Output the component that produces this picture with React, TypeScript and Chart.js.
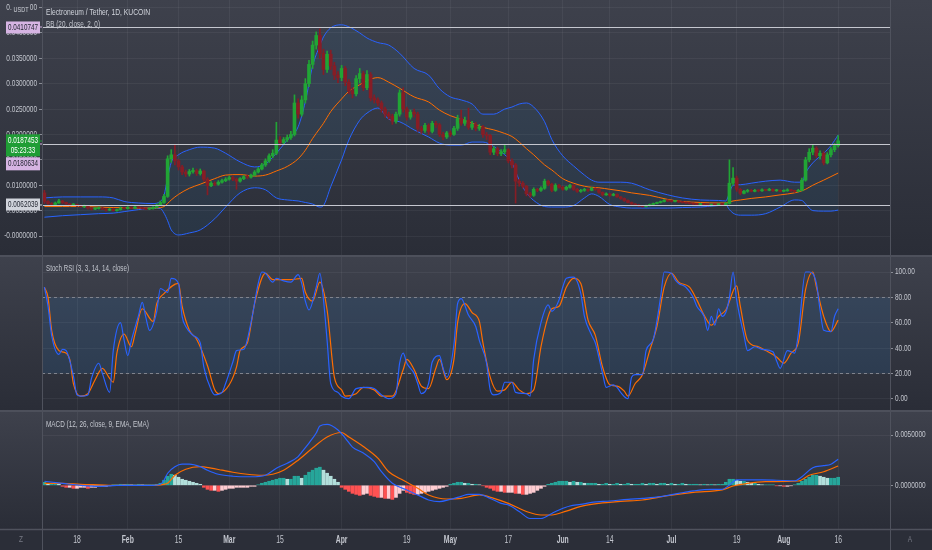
import React, { useEffect, useRef } from "react";
import { Chart, registerables } from "chart.js";

Chart.register(...registerables);

// day 0 = 9 Jan, one candle per day up to 16 Aug (day 219)
const tickDays = [9, 23, 37, 51, 65, 82, 100, 112, 128, 143, 156, 173, 191, 204, 219];
const tickLabels = ["18", "Feb", "15", "Mar", "15", "Apr", "19", "May", "17", "Jun", "14", "Jul", "19", "Aug", "16"];
const monthLabels = ["Feb", "Mar", "Apr", "May", "Jun", "Jul", "Aug"];

const opens = [
  0.0085, 0.0068, 0.0064, 0.0062, 0.0065, 0.0069, 0.0066, 0.0063, 0.0061, 0.0062,
  0.0060, 0.0058, 0.0059, 0.0055, 0.0053, 0.0054, 0.0055, 0.0053, 0.0051, 0.0053,
  0.0050, 0.0052, 0.0055, 0.0054, 0.0056, 0.0055, 0.0057, 0.0056, 0.0054, 0.0053,
  0.0054, 0.0056, 0.0061, 0.0066, 0.0078, 0.0152, 0.0160, 0.0148, 0.0136, 0.0126,
  0.0122, 0.0127, 0.0129, 0.0123, 0.0128, 0.0112, 0.0099, 0.0104, 0.0102, 0.0106,
  0.0109, 0.0112, 0.0115, 0.0112, 0.0108, 0.0113, 0.0117, 0.0116, 0.0120, 0.0126,
  0.0132, 0.0140, 0.0148, 0.0158, 0.0163, 0.0189, 0.0184, 0.0190, 0.0194, 0.0200,
  0.0262, 0.0240, 0.0268, 0.0300, 0.0338, 0.0376, 0.0395, 0.0360, 0.0328, 0.0358,
  0.0335, 0.0317, 0.0312, 0.0330, 0.0303, 0.0286, 0.0280, 0.0310, 0.0320, 0.0292,
  0.0318, 0.0272, 0.0268, 0.0262, 0.0250, 0.0240, 0.0236, 0.0226, 0.0240, 0.0282,
  0.0250, 0.0234, 0.0244, 0.0240, 0.0212, 0.0208, 0.0218, 0.0206, 0.0222, 0.0219,
  0.0200, 0.0195, 0.0203, 0.0200, 0.0212, 0.0232, 0.0222, 0.0228, 0.0214, 0.0220,
  0.0212, 0.0215, 0.0200, 0.0198, 0.0165, 0.0172, 0.0162, 0.0166, 0.0170, 0.0148,
  0.0140, 0.0108, 0.0104, 0.0098, 0.0083, 0.0080, 0.0092, 0.0090, 0.0094, 0.0108,
  0.0102, 0.0090, 0.0100, 0.0096, 0.0092, 0.0096, 0.0100, 0.0092, 0.0088, 0.0090,
  0.0092, 0.0090, 0.0094, 0.0092, 0.0086, 0.0081, 0.0083, 0.0080, 0.0082, 0.0077,
  0.0074, 0.0070, 0.0066, 0.0063, 0.0061, 0.0059, 0.0058, 0.0060, 0.0062, 0.0064,
  0.0066, 0.0068, 0.0070, 0.0069, 0.0068, 0.0069, 0.0067, 0.0066, 0.0065, 0.0064,
  0.0063, 0.0062, 0.0063, 0.0062, 0.0060, 0.0062, 0.0061, 0.0063, 0.0062, 0.0064,
  0.0104, 0.0114, 0.0092, 0.0084, 0.0088, 0.0090, 0.0088, 0.0090, 0.0089, 0.0091,
  0.0090, 0.0092, 0.0089, 0.0090, 0.0088, 0.0089, 0.0091, 0.0089, 0.0088, 0.0090,
  0.0110, 0.0150, 0.0165, 0.0173, 0.0158, 0.0163, 0.0144, 0.0160, 0.0170, 0.0178,
];

const highs = [
  0.0090, 0.0070, 0.0066, 0.0067, 0.0072, 0.0070, 0.0067, 0.0064, 0.0064, 0.0063,
  0.0061, 0.0061, 0.0060, 0.0056, 0.0056, 0.0057, 0.0056, 0.0054, 0.0055, 0.0054,
  0.0053, 0.0057, 0.0056, 0.0058, 0.0057, 0.0059, 0.0058, 0.0057, 0.0055, 0.0055,
  0.0058, 0.0063, 0.0069, 0.0082, 0.0158, 0.0170, 0.0180, 0.0151, 0.0139, 0.0130,
  0.0131, 0.0134, 0.0132, 0.0132, 0.0130, 0.0115, 0.0107, 0.0107, 0.0109, 0.0112,
  0.0115, 0.0118, 0.0118, 0.0114, 0.0115, 0.0119, 0.0120, 0.0122, 0.0129, 0.0135,
  0.0143, 0.0152, 0.0162, 0.0170, 0.0224, 0.0196, 0.0194, 0.0199, 0.0206, 0.0278,
  0.0270, 0.0276, 0.0310, 0.0346, 0.0384, 0.0402, 0.0408, 0.0368, 0.0364, 0.0366,
  0.0342, 0.0324, 0.0336, 0.0334, 0.0308, 0.0292, 0.0316, 0.0330, 0.0324, 0.0326,
  0.0322, 0.0278, 0.0272, 0.0266, 0.0254, 0.0244, 0.0240, 0.0244, 0.0288, 0.0292,
  0.0254, 0.0248, 0.0250, 0.0244, 0.0216, 0.0222, 0.0221, 0.0226, 0.0226, 0.0222,
  0.0204, 0.0206, 0.0207, 0.0216, 0.0238, 0.0248, 0.0234, 0.0252, 0.0226, 0.0224,
  0.0220, 0.0218, 0.0204, 0.0200, 0.0176, 0.0175, 0.0170, 0.0180, 0.0172, 0.0152,
  0.0143, 0.0112, 0.0107, 0.0100, 0.0086, 0.0095, 0.0094, 0.0097, 0.0112, 0.0110,
  0.0104, 0.0103, 0.0102, 0.0098, 0.0098, 0.0102, 0.0101, 0.0094, 0.0092, 0.0094,
  0.0093, 0.0096, 0.0095, 0.0093, 0.0087, 0.0085, 0.0084, 0.0084, 0.0083, 0.0078,
  0.0075, 0.0071, 0.0067, 0.0064, 0.0062, 0.0060, 0.0061, 0.0063, 0.0065, 0.0067,
  0.0069, 0.0072, 0.0071, 0.0070, 0.0070, 0.0070, 0.0068, 0.0067, 0.0066, 0.0065,
  0.0064, 0.0064, 0.0064, 0.0063, 0.0063, 0.0063, 0.0064, 0.0064, 0.0066, 0.0150,
  0.0135, 0.0118, 0.0094, 0.0090, 0.0092, 0.0092, 0.0092, 0.0091, 0.0093, 0.0092,
  0.0094, 0.0093, 0.0092, 0.0091, 0.0091, 0.0093, 0.0092, 0.0090, 0.0092, 0.0114,
  0.0155, 0.0172, 0.0179, 0.0176, 0.0168, 0.0166, 0.0164, 0.0174, 0.0182, 0.0198,
];

const lows = [
  0.0064, 0.0062, 0.0060, 0.0061, 0.0064, 0.0064, 0.0062, 0.0059, 0.0060, 0.0058,
  0.0057, 0.0056, 0.0053, 0.0051, 0.0052, 0.0053, 0.0052, 0.0049, 0.0050, 0.0049,
  0.0049, 0.0051, 0.0053, 0.0053, 0.0054, 0.0054, 0.0055, 0.0053, 0.0052, 0.0052,
  0.0053, 0.0055, 0.0060, 0.0064, 0.0076, 0.0145, 0.0140, 0.0130, 0.0121, 0.0117,
  0.0118, 0.0124, 0.0119, 0.0120, 0.0108, 0.0081, 0.0097, 0.0099, 0.0100, 0.0104,
  0.0107, 0.0110, 0.0109, 0.0092, 0.0106, 0.0111, 0.0113, 0.0114, 0.0118, 0.0124,
  0.0130, 0.0137, 0.0145, 0.0154, 0.0160, 0.0178, 0.0180, 0.0186, 0.0190, 0.0197,
  0.0232, 0.0236, 0.0262, 0.0294, 0.0330, 0.0368, 0.0350, 0.0318, 0.0322, 0.0328,
  0.0308, 0.0302, 0.0306, 0.0296, 0.0280, 0.0272, 0.0276, 0.0302, 0.0286, 0.0288,
  0.0266, 0.0262, 0.0256, 0.0244, 0.0234, 0.0230, 0.0220, 0.0222, 0.0236, 0.0244,
  0.0228, 0.0230, 0.0234, 0.0206, 0.0202, 0.0204, 0.0200, 0.0203, 0.0214, 0.0196,
  0.0189, 0.0192, 0.0196, 0.0198, 0.0208, 0.0218, 0.0218, 0.0210, 0.0210, 0.0207,
  0.0208, 0.0194, 0.0190, 0.0160, 0.0160, 0.0158, 0.0158, 0.0162, 0.0144, 0.0134,
  0.0065, 0.0098, 0.0094, 0.0079, 0.0076, 0.0078, 0.0087, 0.0088, 0.0092, 0.0099,
  0.0087, 0.0088, 0.0094, 0.0090, 0.0090, 0.0094, 0.0090, 0.0086, 0.0086, 0.0088,
  0.0088, 0.0089, 0.0090, 0.0084, 0.0079, 0.0080, 0.0078, 0.0079, 0.0076, 0.0072,
  0.0068, 0.0065, 0.0062, 0.0060, 0.0058, 0.0057, 0.0057, 0.0059, 0.0061, 0.0063,
  0.0065, 0.0067, 0.0068, 0.0067, 0.0067, 0.0066, 0.0065, 0.0064, 0.0063, 0.0062,
  0.0061, 0.0061, 0.0061, 0.0059, 0.0059, 0.0060, 0.0060, 0.0061, 0.0061, 0.0063,
  0.0100, 0.0088, 0.0081, 0.0083, 0.0086, 0.0087, 0.0087, 0.0087, 0.0088, 0.0089,
  0.0089, 0.0088, 0.0088, 0.0087, 0.0087, 0.0088, 0.0088, 0.0086, 0.0087, 0.0089,
  0.0108, 0.0146, 0.0160, 0.0154, 0.0152, 0.0140, 0.0142, 0.0156, 0.0166, 0.0175,
];

const closes = [
  0.0068, 0.0064, 0.0062, 0.0065, 0.0069, 0.0066, 0.0063, 0.0061, 0.0062, 0.0060,
  0.0058, 0.0059, 0.0055, 0.0053, 0.0054, 0.0055, 0.0053, 0.0051, 0.0053, 0.0050,
  0.0052, 0.0055, 0.0054, 0.0056, 0.0055, 0.0057, 0.0056, 0.0054, 0.0053, 0.0054,
  0.0056, 0.0061, 0.0066, 0.0078, 0.0152, 0.0160, 0.0148, 0.0136, 0.0126, 0.0122,
  0.0127, 0.0129, 0.0123, 0.0128, 0.0112, 0.0099, 0.0104, 0.0102, 0.0106, 0.0109,
  0.0112, 0.0115, 0.0112, 0.0108, 0.0113, 0.0117, 0.0116, 0.0120, 0.0126, 0.0132,
  0.0140, 0.0148, 0.0158, 0.0163, 0.0189, 0.0184, 0.0190, 0.0194, 0.0200, 0.0262,
  0.0240, 0.0268, 0.0300, 0.0338, 0.0376, 0.0395, 0.0360, 0.0328, 0.0358, 0.0335,
  0.0317, 0.0312, 0.0330, 0.0303, 0.0286, 0.0280, 0.0310, 0.0320, 0.0292, 0.0318,
  0.0272, 0.0268, 0.0262, 0.0250, 0.0240, 0.0236, 0.0226, 0.0240, 0.0282, 0.0250,
  0.0234, 0.0244, 0.0240, 0.0212, 0.0208, 0.0218, 0.0206, 0.0222, 0.0219, 0.0200,
  0.0195, 0.0203, 0.0200, 0.0212, 0.0232, 0.0222, 0.0228, 0.0214, 0.0220, 0.0212,
  0.0215, 0.0200, 0.0198, 0.0165, 0.0172, 0.0162, 0.0166, 0.0170, 0.0148, 0.0140,
  0.0108, 0.0104, 0.0098, 0.0083, 0.0080, 0.0092, 0.0090, 0.0094, 0.0108, 0.0102,
  0.0090, 0.0100, 0.0096, 0.0092, 0.0096, 0.0100, 0.0092, 0.0088, 0.0090, 0.0092,
  0.0090, 0.0094, 0.0092, 0.0086, 0.0081, 0.0083, 0.0080, 0.0082, 0.0077, 0.0074,
  0.0070, 0.0066, 0.0063, 0.0061, 0.0059, 0.0058, 0.0060, 0.0062, 0.0064, 0.0066,
  0.0068, 0.0070, 0.0069, 0.0068, 0.0069, 0.0067, 0.0066, 0.0065, 0.0064, 0.0063,
  0.0062, 0.0063, 0.0062, 0.0060, 0.0062, 0.0061, 0.0063, 0.0062, 0.0064, 0.0104,
  0.0114, 0.0092, 0.0084, 0.0088, 0.0090, 0.0088, 0.0090, 0.0089, 0.0091, 0.0090,
  0.0092, 0.0089, 0.0090, 0.0088, 0.0089, 0.0091, 0.0089, 0.0088, 0.0090, 0.0110,
  0.0150, 0.0165, 0.0173, 0.0158, 0.0163, 0.0144, 0.0160, 0.0170, 0.0178, 0.0187453,
];

// Bollinger Bands (20, 2) read at these days
const bbDays = [
  0, 5, 10, 15, 19, 22, 26, 30, 32, 33,
  34, 35, 37, 40, 43, 47, 50, 54, 58, 61,
  64, 67, 70, 72, 74, 76, 77, 79, 82, 84,
  87, 89, 92, 95, 98, 102, 106, 109, 112, 115,
  118, 121, 124, 127, 129, 131, 133, 135, 138, 140,
  143, 146, 149, 151, 153, 156, 159, 162, 167, 172,
  176, 181, 186, 188, 189, 190, 192, 195, 199, 203,
  207, 209, 210, 212, 215, 217, 219,
];
const bbUpper = [
  0.0075, 0.0077, 0.0077, 0.0077, 0.0075, 0.0068, 0.0065, 0.0064, 0.0068, 0.0080,
  0.0115, 0.0145, 0.0160, 0.0170, 0.0175, 0.0173, 0.0163, 0.0146, 0.0136, 0.0142,
  0.0163, 0.0189, 0.0215, 0.0265, 0.0335, 0.0375, 0.0392, 0.0410, 0.0416, 0.0412,
  0.0400, 0.0390, 0.0381, 0.0376, 0.0360, 0.0330, 0.0317, 0.0290, 0.0274, 0.0268,
  0.0260, 0.0240, 0.0240, 0.0250, 0.0254, 0.0260, 0.0262, 0.0254, 0.0225, 0.0190,
  0.0158, 0.0138, 0.0120, 0.0110, 0.0106, 0.0106, 0.0106, 0.0104, 0.0091, 0.0081,
  0.0075, 0.0071, 0.0070, 0.0069, 0.0085, 0.0100, 0.0101, 0.0104, 0.0108, 0.0110,
  0.0106, 0.0106, 0.0124, 0.0144, 0.0163, 0.0178, 0.0199,
];
const bbBasis = [
  0.0058, 0.0058, 0.0058, 0.0057, 0.0056, 0.0056, 0.0055, 0.0055, 0.0056, 0.0058,
  0.0064, 0.0071, 0.0082, 0.0094, 0.0102, 0.0113, 0.0120, 0.0121, 0.0118, 0.0120,
  0.0128, 0.0137, 0.0152, 0.0169, 0.0192, 0.0212, 0.0222, 0.0245, 0.0270, 0.0285,
  0.0298, 0.0306, 0.0312, 0.0303, 0.0291, 0.0274, 0.0264, 0.0248, 0.0237, 0.0230,
  0.0222, 0.0214, 0.0209, 0.0202, 0.0196, 0.0185, 0.0172, 0.0160, 0.0140, 0.0130,
  0.0113, 0.0104, 0.0098, 0.0096, 0.0095, 0.0092, 0.0089, 0.0085, 0.0080, 0.0072,
  0.0068, 0.0066, 0.0065, 0.0065, 0.0067, 0.0069, 0.0071, 0.0074, 0.0077, 0.0081,
  0.0085, 0.0089, 0.0092, 0.0100, 0.0110, 0.0117, 0.0124,
];
const bbLower = [
  0.0037, 0.0040, 0.0042, 0.0044, 0.0045, 0.0048, 0.0052, 0.0055, 0.0054, 0.0045,
  0.0030, 0.0012, 0.0002, 0.0006, 0.0012, 0.0034, 0.0057, 0.0085, 0.0095, 0.0091,
  0.0075, 0.0071, 0.0069, 0.0066, 0.0063, 0.0057, 0.0060, 0.0097, 0.0150, 0.0189,
  0.0228, 0.0242, 0.0252, 0.0230, 0.0225, 0.0209, 0.0195, 0.0183, 0.0179, 0.0179,
  0.0185, 0.0185, 0.0176, 0.0160, 0.0144, 0.0110, 0.0085, 0.0070, 0.0058, 0.0057,
  0.0057, 0.0060, 0.0075, 0.0083, 0.0078, 0.0062, 0.0057, 0.0055, 0.0055, 0.0055,
  0.0056, 0.0057, 0.0060, 0.0061, 0.0052, 0.0045, 0.0041, 0.0041, 0.0044, 0.0057,
  0.0071, 0.0070, 0.0063, 0.0050, 0.0049, 0.0049, 0.0051,
];

const priceLines = [0.0410747, 0.0180634, 0.0062039];
const priceTicks = [0, 0.005, 0.01, 0.015, 0.02, 0.025, 0.03, 0.035, 0.04, 0.045];
const priceTickLabels = ["-0.0000000", "0.0050000", "0.0100000", "0.0150000", "0.0200000", "0.0250000", "0.0300000", "0.0350000", "0.0400000", "0.0450000"];

// Stoch RSI [day, value]
const stochK = [
  [0, 88], [1, 73], [2, 50], [4, 35], [5, 39], [6, 38], [8, 18], [9, 3], [10, 2], [12, 3], [13, 16], [15, 28],
  [16, 20], [18, 5], [19, 38], [21, 60], [22, 46], [23, 34], [24, 46], [26, 66], [27, 76], [28, 64], [29, 54],
  [31, 69], [32, 87], [34, 84], [35, 95], [37, 91], [38, 65], [39, 57], [41, 50], [43, 44], [44, 25], [46, 7],
  [47, 3], [49, 5], [50, 12], [52, 29], [53, 38], [55, 39], [57, 60], [59, 91], [60, 100], [61, 99], [63, 92],
  [64, 95], [66, 93], [68, 92], [70, 98], [71, 91], [72, 77], [73, 70], [75, 88], [76, 99], [77, 78], [78, 46],
  [79, 12], [81, 5], [82, 2], [84, 0], [86, 8], [89, 9], [91, 8], [93, 3], [95, 0], [97, 4], [98, 28], [99, 36],
  [100, 28], [102, 20], [103, 12], [104, 4], [106, 12], [107, 29], [109, 34], [110, 24], [111, 17], [113, 43],
  [114, 75], [115, 79], [117, 66], [119, 57], [120, 46], [122, 28], [123, 7], [124, 3], [126, 5], [127, 13],
  [129, 13], [130, 5], [133, 4], [134, 2], [135, 31], [137, 60], [139, 74], [140, 69], [142, 78], [143, 88],
  [144, 95], [146, 96], [148, 83], [149, 65], [151, 50], [152, 44], [154, 20], [155, 9], [157, 11], [158, 9],
  [159, 5], [161, 0], [162, 17], [163, 19], [165, 19], [166, 38], [168, 47], [170, 80], [171, 100], [173, 99],
  [174, 94], [175, 91], [177, 88], [179, 80], [180, 73], [182, 65], [183, 54], [184, 65], [185, 58], [186, 71],
  [187, 65], [188, 68], [189, 80], [190, 100], [191, 78], [193, 50], [194, 38], [196, 41], [198, 39], [201, 37],
  [202, 30], [203, 24], [205, 38], [207, 36], [208, 51], [210, 100], [211, 100], [213, 91], [214, 70], [215, 54],
  [217, 53], [218, 65], [219, 71],
];
const stochD = [
  [0, 88], [1, 80], [2, 54], [4, 38], [5, 37], [7, 31], [8, 12], [10, 2], [12, 4], [14, 15], [16, 24], [18, 16],
  [19, 13], [20, 36], [22, 51], [24, 41], [25, 51], [27, 71], [30, 61], [31, 75], [33, 83], [37, 91], [38, 73],
  [40, 54], [42, 47], [45, 26], [47, 7], [48, 4], [51, 11], [53, 25], [54, 38], [56, 44], [58, 75], [61, 99],
  [63, 94], [66, 94], [68, 94], [71, 95], [72, 84], [74, 77], [76, 92], [78, 70], [80, 17], [82, 7], [83, 2],
  [86, 4], [88, 9], [91, 7], [93, 2], [96, 2], [99, 23], [100, 31], [102, 23], [104, 10], [106, 8], [108, 24],
  [109, 31], [111, 15], [113, 31], [114, 60], [116, 75], [118, 68], [120, 61], [121, 44], [123, 17], [125, 6],
  [127, 7], [129, 13], [131, 7], [133, 4], [135, 7], [137, 41], [139, 65], [140, 71], [142, 73], [144, 88],
  [146, 95], [148, 91], [150, 62], [152, 50], [154, 25], [156, 11], [158, 10], [160, 6], [161, 2], [163, 12],
  [165, 19], [167, 38], [169, 57], [171, 88], [173, 99], [175, 92], [178, 88], [180, 78], [182, 66], [184, 58],
  [186, 65], [188, 70], [191, 89], [192, 73], [194, 46], [197, 41], [199, 38], [202, 33], [204, 28], [206, 36],
  [208, 44], [210, 86], [212, 100], [213, 88], [215, 65], [217, 53], [219, 62],
];
const stochBands = [80, 20];
const stochTicks = [0, 20, 40, 60, 80, 100];
const stochTickLabels = ["0.00", "20.00", "40.00", "60.00", "80.00", "100.00"];

// MACD (12, 26, 9) [day, value]
const macdLine = [
  [0, 0.0004], [5, 0.0002], [10, 0], [15, -0.0001], [20, 0], [25, 0], [30, 0], [32, 0.0001], [33, 0.0005],
  [34, 0.0012], [36, 0.00185], [38, 0.0021], [40, 0.0021], [43, 0.00185], [45, 0.0015], [48, 0.0011],
  [52, 0.0009], [57, 0.00085], [61, 0.001], [64, 0.0017], [67, 0.0022], [70, 0.00285], [71, 0.0033],
  [73, 0.0042], [75, 0.0052], [76, 0.0059], [78, 0.00605], [81, 0.0055], [83, 0.0047], [85, 0.0038],
  [88, 0.0032], [91, 0.00235], [93, 0.00135], [96, 0.0002], [100, -0.00047], [104, -0.00113], [106, -0.00146],
  [109, -0.00163], [112, -0.0014], [115, -0.0011], [117, -0.0009], [120, -0.0009], [123, -0.0013],
  [126, -0.0018], [128, -0.00195], [131, -0.0026], [134, -0.0033], [137, -0.0033], [140, -0.0028],
  [142, -0.00245], [145, -0.00206], [148, -0.0019], [151, -0.0017], [156, -0.00156], [161, -0.0014],
  [165, -0.0013], [170, -0.00113], [175, -0.0008], [179, -0.00056], [184, -0.0004], [187, -0.0004],
  [189, 0.00003], [191, 0.00053], [194, 0.00053], [198, 0.00053], [202, 0.0005], [207, 0.00045],
  [209, 0.00086], [212, 0.00175], [215, 0.00195], [217, 0.0021], [219, 0.0026],
];
const signalLine = [
  [0, 0.0002], [5, 0.0002], [10, 0.0001], [15, 0.00005], [20, 0], [30, 0], [33, 0.0001], [34, 0.0002],
  [36, 0.001], [39, 0.0016], [43, 0.00185], [46, 0.0017], [49, 0.0015], [52, 0.0013], [56, 0.0011],
  [60, 0.001], [63, 0.0011], [66, 0.0015], [70, 0.0025], [74, 0.0037], [78, 0.0048], [82, 0.00525],
  [84, 0.0048], [88, 0.00385], [92, 0.0027], [95, 0.00135], [99, 0.0005], [103, -0.0003], [106, -0.00096],
  [111, -0.00136], [115, -0.0013], [120, -0.00096], [124, -0.0013], [128, -0.0018], [133, -0.0026],
  [137, -0.00295], [140, -0.00295], [144, -0.00256], [148, -0.0021], [153, -0.0018], [159, -0.0016],
  [165, -0.00146], [172, -0.00103], [179, -0.0007], [187, -0.00046], [190, -0.00007], [194, 0.0002],
  [199, 0.00036], [208, 0.00043], [211, 0.001], [215, 0.00135], [219, 0.00192],
];
const macdHist = [
  0.0003, 0.0002, 0.0002, 0.0002, 0.0001, -0.0001, -0.0002, -0.0002, -0.0003, -0.0003,
  -0.0002, -0.0002, -0.0003, -0.0002, -0.0002, -0.0001, -0.0001, -0.0001, -0.00005, 0.00005,
  0.00005, 0.0001, 0.00005, 0.0001, 0.00005, 0.00005, 0.0001, 0.00005, 0.00005, 0.00005,
  0.00005, 0.0001, 0.0002, 0.0005, 0.0009, 0.0011, 0.0010, 0.0008, 0.0006, 0.0005,
  0.0004, 0.0003, 0.0002, 0.0001, -0.0002, -0.0004, -0.0005, -0.0005, -0.0006, -0.0005,
  -0.0004, -0.0003, -0.0003, -0.0002, -0.0002, -0.0002, -0.0002, -0.0001, -0.0001, 0.00005,
  0.0002, 0.0003, 0.0004, 0.0005, 0.0006, 0.0007, 0.0007, 0.0006, 0.0006, 0.0009,
  0.0009, 0.0007, 0.0010, 0.0013, 0.0015, 0.0017, 0.0018, 0.0015, 0.0012, 0.0009,
  0.0006, 0.0003, -0.0002, -0.0004, -0.0006, -0.0008, -0.0009, -0.0010, -0.0009, -0.0008,
  -0.0010, -0.0011, -0.0012, -0.0012, -0.0013, -0.0013, -0.0014, -0.0012, -0.0008, -0.0005,
  -0.0007, -0.0008, -0.0009, -0.0009, -0.0008, -0.0007, -0.0006, -0.0005, -0.0004, -0.0003,
  -0.0002, -0.0001, 0.0001, 0.0002, 0.0003, 0.0003, 0.0002, 0.0002, 0.0001, 0.0001,
  0.00005, -0.00005, -0.0002, -0.0003, -0.0005, -0.0006, -0.0006, -0.0007, -0.0007, -0.0007,
  -0.0008, -0.0008, -0.0009, -0.0009, -0.0008, -0.0007, -0.0005, -0.0003, -0.0001, 0.0001,
  0.0002, 0.0003, 0.0004, 0.0004, 0.0004, 0.0003, 0.0004, 0.0003, 0.0003, 0.0002,
  0.0002, 0.0002, 0.0002, 0.0001, 0.0001, 0.0002, 0.0001, 0.0001, 0.0002, 0.0001,
  0.0001, 0.0002, 0.0001, 0.0001, 0.0001, 0.0002, 0.0001, 0.0002, 0.0002, 0.0001,
  0.0002, 0.0002, 0.0001, 0.0002, 0.0001, 0.0001, 0.0002, 0.0001, 0.0001, 0.0001,
  0.0001, 0.00005, 0.0001, 0.00005, 0.0001, 0.00005, 0.0001, 0.0001, 0.0003, 0.0006,
  0.0006, 0.0005, 0.0004, 0.0004, 0.0003, 0.0002, 0.0002, 0.0001, 0.00005, 0.00005,
  0.00005, 0.00005, -0.00005, -0.00005, -0.0001, -0.0001, -0.00005, 0.00005, 0.0002, 0.0004,
  0.0006, 0.0008, 0.0010, 0.0010, 0.0009, 0.0008, 0.0007, 0.0007, 0.0007, 0.0008,
];
const macdTicks = [0, 0.005];
const macdTickLabels = ["0.0000000", "0.0050000"];

// ---- layout / style ----
const W = 932;
const AXIS_W = 42;
const PRICE_H = 255;
const STOCH_TOP = 257;
const STOCH_H = 153;
const MACD_TOP = 412;
const MACD_H = 138;
const MACD_PLOT_H = 117;
const X_MIN = -0.66;
const X_MAX = 233.3;

const FONT = "'Liberation Sans', Arial, sans-serif";
const TXT = "#c3c6ce";
const GRID = "rgba(255,255,255,0.05)";
const FRAME = "#4f525d";
const BLUE = "#2962ff";
const ORANGE = "#ff6d00";
const UP = "#21a535";
const DOWN = "#861d25";

// text squeezed horizontally, like the reference screenshot
function squeeze(ctx: any, text: string, x: number, y: number, size: number, color: string, weight = "normal", align = "left", sx = 0.72) {
  ctx.save();
  ctx.font = `${weight} ${size}px ${FONT}`;
  ctx.translate(x, y);
  ctx.scale(sx, 1);
  ctx.fillStyle = color;
  ctx.textBaseline = "middle";
  ctx.textAlign = align;
  ctx.fillText(text, 0, 0);
  ctx.restore();
}

function fitText(ctx: any, text: string, x: number, y: number, width: number, size: number, color: string, weight = "normal", align = "left") {
  ctx.save();
  ctx.font = `${weight} ${size}px ${FONT}`;
  const w = ctx.measureText(text).width;
  ctx.restore();
  squeeze(ctx, text, x, y, size, color, weight, align, Math.min(1, width / w));
}

const paneFrame = {
  id: "paneFrame",
  beforeDraw(chart: any) {
    const { ctx, width, height, chartArea } = chart;
    const g = ctx.createLinearGradient(0, 0, 0, chartArea.bottom);
    g.addColorStop(0, "#3e414c");
    g.addColorStop(1, "#2a2d37");
    ctx.save();
    ctx.fillStyle = g;
    ctx.fillRect(0, 0, width, chartArea.bottom);
    if (height > chartArea.bottom) {
      ctx.fillStyle = "#2b2e38";
      ctx.fillRect(0, chartArea.bottom, width, height - chartArea.bottom);
    }
    ctx.restore();
  },
  afterDraw(chart: any) {
    const { ctx, height, chartArea } = chart;
    ctx.save();
    ctx.strokeStyle = FRAME;
    ctx.lineWidth = 1;
    [chartArea.left, chartArea.right].forEach((x: number) => {
      const px = Math.round(x) + 0.5;
      ctx.beginPath();
      ctx.moveTo(px, 0);
      ctx.lineTo(px, height);
      ctx.stroke();
    });
    ctx.restore();
  },
};

// tick labels placed from the chart's own scales
function axisText(ticks: number[], labels: string[], side: string, withX: boolean) {
  return {
    id: "axisText",
    afterDraw(chart: any) {
      const { ctx, scales, chartArea: a } = chart;
      ticks.forEach((v, i) => {
        const py = scales.y.getPixelForValue(v);
        if (side === "left") squeeze(ctx, labels[i], a.left - 5, py, 9, TXT, "normal", "right");
        else squeeze(ctx, labels[i], a.right + 5, py, 9, TXT, "normal", "left");
      });
      if (withX) {
        tickDays.forEach((d, i) => {
          const px = scales.x.getPixelForValue(d);
          const bold = monthLabels.includes(tickLabels[i]);
          squeeze(ctx, tickLabels[i], px, a.bottom + 11, 10, TXT, bold ? "bold" : "normal", "center", 0.68);
        });
      }
    },
  };
}

function xAxis(showLabels: boolean) {
  return {
    type: "linear",
    min: X_MIN,
    max: X_MAX,
    offset: false,
    afterBuildTicks: (s: any) => {
      s.ticks = tickDays.map((v) => ({ value: v }));
    },
    afterFit: (s: any) => {
      s.height = showLabels ? MACD_H - MACD_PLOT_H : 0;
      s.paddingLeft = 0;
      s.paddingRight = 0;
    },
    border: { display: false },
    grid: { color: GRID, drawTicks: false, offset: false },
    ticks: { display: false },
  };
}

function yAxis(position: string, min: number, max: number, ticks: number[]) {
  return {
    position,
    min,
    max,
    afterBuildTicks: (s: any) => {
      s.ticks = ticks.map((v) => ({ value: v }));
    },
    afterFit: (s: any) => {
      s.width = AXIS_W;
      s.paddingTop = 0;
      s.paddingBottom = 0;
    },
    border: { display: false },
    grid: { color: GRID, tickLength: 3, tickColor: "#8a8d96" },
    ticks: { display: false },
  };
}

const pts = (pairs: number[][]) => pairs.map(([x, y]) => ({ x, y }));

const baseOptions = {
  animation: false,
  responsive: false,
  maintainAspectRatio: false,
  events: [],
  plugins: { legend: { display: false }, tooltip: { enabled: false } },
};

function labelBox(ctx: any, top: number, h: number, fill: string, color: string, lines: [string, number][], lineY: number) {
  ctx.save();
  ctx.fillStyle = fill;
  ctx.fillRect(6, top, 34, h);
  ctx.fillRect(40, Math.round(lineY) - 0.5, 2, 1);
  ctx.restore();
  lines.forEach(([t, y]) => squeeze(ctx, t, 23, y, 9, color, "normal", "center", 0.7));
}

const priceOverlay = {
  id: "priceOverlay",
  afterDatasetsDraw(chart: any) {
    const { ctx, chartArea: a, scales } = chart;
    ctx.save();
    ctx.strokeStyle = "#c5c7cf";
    ctx.lineWidth = 1;
    priceLines.forEach((v) => {
      const y = Math.round(scales.y.getPixelForValue(v)) + 0.5;
      ctx.beginPath();
      ctx.moveTo(a.left, y);
      ctx.lineTo(a.right, y);
      ctx.stroke();
    });
    ctx.restore();
  },
  afterDraw(chart: any) {
    const { ctx, scales } = chart;
    const py = (v: number) => scales.y.getPixelForValue(v);
    fitText(ctx, "Electroneum / Tether, 1D, KUCOIN", 46, 12, 104, 9.5, "#d1d4dc");
    fitText(ctx, "BB (20, close, 2, 0)", 46, 25, 54, 9, TXT);

    ctx.save();
    ctx.fillStyle = "#3e414c";
    ctx.fillRect(12, 3, 18, 13);
    ctx.restore();
    fitText(ctx, "USDT", 21, 10, 15, 8, "#d1d4dc", "normal", "center");

    const top = py(priceLines[0]);
    labelBox(ctx, top - 6, 12, "#d6b4e3", "#1e222d", [[priceLines[0].toFixed(7), top]], top);

    const last = closes[closes.length - 1];
    const ly = py(last);
    labelBox(ctx, ly - 6.5, 22, "#1f9d35", "#ffffff", [[last.toFixed(7), ly], ["05:23:33", ly + 10]], ly);

    const my = py(priceLines[1]);
    labelBox(ctx, ly + 16.5, 13, "#d6b4e3", "#1e222d", [[priceLines[1].toFixed(7), ly + 23]], my);

    const gy = py(priceLines[2]);
    labelBox(ctx, gy - 6, 12, "#d1d4dc", "#1e222d", [[priceLines[2].toFixed(7), gy]], gy);
  },
};

function PriceChart() {
  const ref = useRef<HTMLCanvasElement>(null);
  useEffect(() => {
    const ctx = ref.current!.getContext("2d")!;
    const colors = closes.map((c, i) => (c >= opens[i] ? UP : DOWN));
    const chart = new Chart(ctx, {
      type: "bar",
      data: {
        datasets: [
          {
            type: "line",
            data: bbDays.map((d, i) => ({ x: d, y: bbUpper[i] })),
            borderColor: BLUE,
            borderWidth: 1,
            pointRadius: 0,
            cubicInterpolationMode: "monotone",
            fill: "+1",
            backgroundColor: "rgba(33,150,243,0.07)",
            order: 3,
          },
          {
            type: "line",
            data: bbDays.map((d, i) => ({ x: d, y: bbLower[i] })),
            borderColor: BLUE,
            borderWidth: 1,
            pointRadius: 0,
            cubicInterpolationMode: "monotone",
            fill: false,
            order: 3,
          },
          {
            type: "line",
            data: bbDays.map((d, i) => ({ x: d, y: bbBasis[i] })),
            borderColor: ORANGE,
            borderWidth: 1,
            pointRadius: 0,
            cubicInterpolationMode: "monotone",
            fill: false,
            order: 2,
          },
          {
            type: "bar",
            data: closes.map((_, i) => ({ x: i, y: [lows[i], highs[i]] })),
            backgroundColor: colors,
            barThickness: 1,
            grouped: false,
            order: 1,
          },
          {
            type: "bar",
            data: closes.map((c, i) => ({ x: i, y: [opens[i], c] })),
            backgroundColor: colors,
            barThickness: 3,
            minBarLength: 1,
            grouped: false,
            order: 0,
          },
        ],
      },
      options: {
        ...baseOptions,
        layout: { padding: { left: 0, right: W - 890, top: 0, bottom: 0 } },
        scales: {
          x: xAxis(false),
          y: yAxis("left", -19 / 5077, 236 / 5077, priceTicks),
        },
      },
      plugins: [paneFrame, axisText(priceTicks, priceTickLabels, "left", false), priceOverlay],
    } as any);
    return () => chart.destroy();
  }, []);
  return <canvas ref={ref} width={W} height={PRICE_H} style={{ position: "absolute", left: 0, top: 0 }} />;
}

const stochOverlay = {
  id: "stochOverlay",
  beforeDatasetsDraw(chart: any) {
    const { ctx, chartArea: a, scales } = chart;
    const y1 = scales.y.getPixelForValue(stochBands[0]);
    const y2 = scales.y.getPixelForValue(stochBands[1]);
    ctx.save();
    ctx.fillStyle = "rgba(33,150,243,0.11)";
    ctx.fillRect(a.left, y1, a.right - a.left, y2 - y1);
    ctx.strokeStyle = "#80838d";
    ctx.lineWidth = 1;
    ctx.setLineDash([3, 3]);
    [y1, y2].forEach((y) => {
      const py = Math.round(y) + 0.5;
      ctx.beginPath();
      ctx.moveTo(a.left, py);
      ctx.lineTo(a.right, py);
      ctx.stroke();
    });
    ctx.restore();
  },
  afterDraw(chart: any) {
    fitText(chart.ctx, "Stoch RSI (3, 3, 14, 14, close)", 46, 12, 83, 9, TXT);
  },
};

function StochChart() {
  const ref = useRef<HTMLCanvasElement>(null);
  useEffect(() => {
    const ctx = ref.current!.getContext("2d")!;
    const chart = new Chart(ctx, {
      type: "line",
      data: {
        datasets: [
          { data: pts(stochK), borderColor: BLUE, borderWidth: 1.2, pointRadius: 0, cubicInterpolationMode: "monotone" },
          { data: pts(stochD), borderColor: ORANGE, borderWidth: 1.2, pointRadius: 0, cubicInterpolationMode: "monotone" },
        ],
      },
      options: {
        ...baseOptions,
        layout: { padding: { left: AXIS_W, right: 0, top: 0, bottom: 0 } },
        scales: {
          x: xAxis(false),
          y: yAxis("right", -8.9, 111.84, stochTicks),
        },
      },
      plugins: [paneFrame, axisText(stochTicks, stochTickLabels, "right", false), stochOverlay],
    } as any);
    return () => chart.destroy();
  }, []);
  return <canvas ref={ref} width={W} height={STOCH_H} style={{ position: "absolute", left: 0, top: STOCH_TOP }} />;
}

const macdOverlay = {
  id: "macdOverlay",
  afterDraw(chart: any) {
    const { ctx, chartArea: a, width } = chart;
    ctx.save();
    ctx.strokeStyle = FRAME;
    ctx.lineWidth = 1.5;
    ctx.beginPath();
    ctx.moveTo(0, Math.round(a.bottom) + 0.5);
    ctx.lineTo(width, Math.round(a.bottom) + 0.5);
    ctx.stroke();
    ctx.restore();
    fitText(ctx, "MACD (12, 26, close, 9, EMA, EMA)", 46, 13, 103, 9, TXT);
    squeeze(ctx, "Z", 21, 128, 9, "#787b86", "normal", "center");
    squeeze(ctx, "A", 910, 128, 9, "#787b86", "normal", "center");
  },
};

function MacdChart() {
  const ref = useRef<HTMLCanvasElement>(null);
  useEffect(() => {
    const ctx = ref.current!.getContext("2d")!;
    const histColors = macdHist.map((v, i) => {
      const prev = i > 0 ? macdHist[i - 1] : 0;
      if (v >= 0) return v >= prev ? "#26a69a" : "#b2dfdb";
      return v < prev ? "#ff5252" : "#ffcdd2";
    });
    const chart = new Chart(ctx, {
      type: "bar",
      data: {
        datasets: [
          { type: "line", data: pts(macdLine), borderColor: BLUE, borderWidth: 1.2, pointRadius: 0, cubicInterpolationMode: "monotone", order: 0 },
          { type: "line", data: pts(signalLine), borderColor: ORANGE, borderWidth: 1.2, pointRadius: 0, cubicInterpolationMode: "monotone", order: 1 },
          {
            type: "bar",
            data: macdHist.map((v, i) => ({ x: i, y: v })),
            backgroundColor: histColors,
            barThickness: 3,
            order: 2,
          },
        ],
      },
      options: {
        ...baseOptions,
        layout: { padding: { left: AXIS_W, right: 0, top: 0, bottom: 0 } },
        scales: {
          x: xAxis(true),
          y: yAxis("right", -0.0043439, 0.0072863, macdTicks),
        },
      },
      plugins: [paneFrame, axisText(macdTicks, macdTickLabels, "right", true), macdOverlay],
    } as any);
    return () => chart.destroy();
  }, []);
  return <canvas ref={ref} width={W} height={MACD_H} style={{ position: "absolute", left: 0, top: MACD_TOP }} />;
}

export default function App() {
  return (
    <div style={{ position: "fixed", left: 0, top: 0, width: W, height: 550, background: "#2a2d37", overflow: "hidden" }}>
      <PriceChart />
      <div style={{ position: "absolute", left: 0, top: PRICE_H, width: W, height: 2, background: "#4d505b" }} />
      <StochChart />
      <div style={{ position: "absolute", left: 0, top: STOCH_TOP + STOCH_H, width: W, height: 2, background: "#4d505b" }} />
      <MacdChart />
    </div>
  );
}
